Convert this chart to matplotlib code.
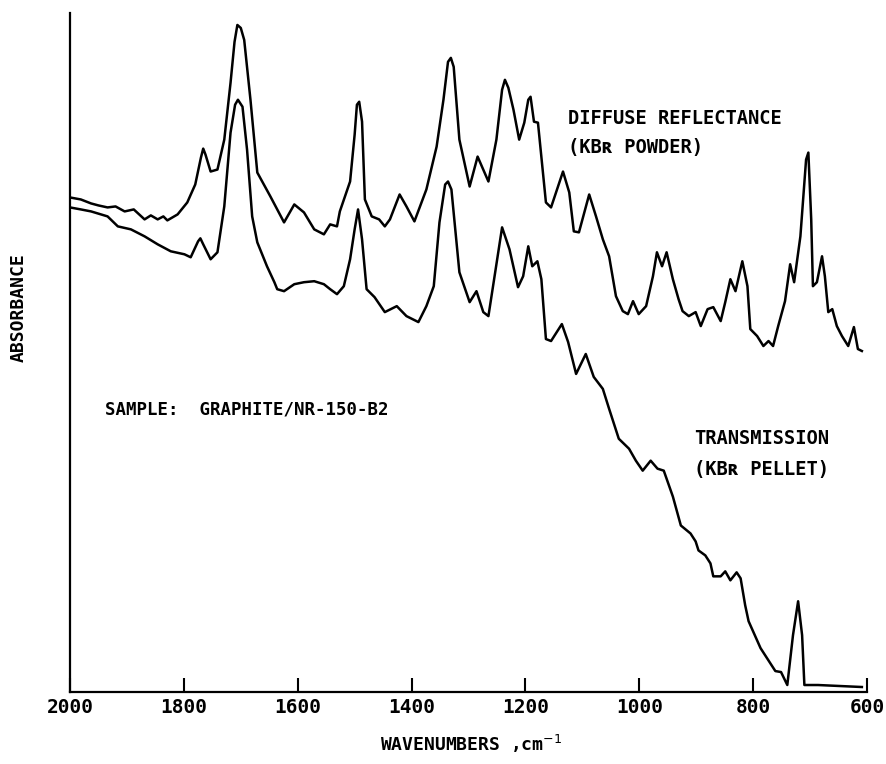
import matplotlib
matplotlib.use("Agg")
import matplotlib.pyplot as plt

# Diffuse reflectance (KBr powder) spectrum: wavenumber (cm-1), absorbance (arb.)
diffuse_wn = [2000, 1981, 1963, 1950, 1934, 1920, 1904, 1888, 1869, 1858, 1846, 1836, 1829,
              1811, 1794, 1780, 1770, 1766, 1762, 1753, 1741, 1729, 1718, 1711, 1706, 1700, 1694,
              1683, 1671, 1648, 1636, 1624, 1606, 1589, 1571, 1554, 1543, 1531, 1526, 1508, 1500,
              1496, 1492, 1487, 1482, 1470, 1457, 1447, 1438, 1421, 1409, 1395, 1374, 1356,
              1344, 1336, 1331, 1326, 1316, 1298, 1284, 1265, 1251, 1241, 1236, 1230, 1221, 1211, 1202,
              1195, 1191, 1185, 1178, 1164, 1155, 1134, 1123, 1115, 1106, 1088, 1076, 1064,
              1053, 1041, 1029, 1020, 1011, 1001, 988, 976, 969, 960, 952, 941, 931,
              924, 913, 901, 892, 880, 870, 857, 849, 840, 831, 819, 810, 805, 793,
              782, 773, 765, 756, 744, 735, 728, 717, 707, 703, 698, 695, 688, 679, 674,
              668, 661, 653, 644, 633, 623, 616, 609]
diffuse_abs = [0.492, 0.490, 0.486, 0.484, 0.482, 0.483, 0.478, 0.480, 0.470, 0.474, 0.470, 0.473, 0.469,
               0.475, 0.487, 0.505, 0.532, 0.541, 0.535, 0.518, 0.520, 0.550, 0.607, 0.648, 0.665, 0.662, 0.650,
               0.590, 0.517, 0.493, 0.480, 0.467, 0.485, 0.477, 0.460, 0.455, 0.465, 0.463, 0.478, 0.508, 0.555,
               0.585, 0.588, 0.568, 0.490, 0.473, 0.470, 0.463, 0.470, 0.495, 0.483, 0.468, 0.500, 0.543,
               0.590, 0.628, 0.632, 0.623, 0.550, 0.503, 0.533, 0.508, 0.550, 0.600, 0.610, 0.602, 0.580, 0.550, 0.567,
               0.590, 0.593, 0.568, 0.567, 0.487, 0.482, 0.518, 0.497, 0.458, 0.457, 0.495, 0.473, 0.450,
               0.433, 0.393, 0.378, 0.375, 0.388, 0.375, 0.383, 0.413, 0.437, 0.423, 0.437, 0.410, 0.390,
               0.378, 0.373, 0.377, 0.363, 0.380, 0.382, 0.368, 0.387, 0.410, 0.398, 0.428, 0.403, 0.360, 0.353,
               0.343, 0.348, 0.343, 0.363, 0.388, 0.425, 0.407, 0.453, 0.530, 0.537, 0.470, 0.403, 0.407, 0.433, 0.413,
               0.377, 0.380, 0.363, 0.353, 0.343, 0.362, 0.340, 0.338]

# Transmission (KBr pellet) spectrum
trans_wn = [2000, 1981, 1963, 1934, 1916, 1893, 1869, 1846, 1823, 1799, 1788, 1775, 1771, 1766, 1753,
            1741, 1729, 1718, 1710, 1705, 1697, 1689, 1680, 1671, 1654, 1641, 1636, 1624, 1606,
            1589, 1571, 1554, 1543, 1531, 1519, 1508, 1500, 1494, 1487, 1479, 1465, 1447,
            1426, 1409, 1388, 1374, 1361, 1351, 1341, 1336, 1330, 1316, 1298, 1286, 1274, 1265,
            1255, 1241, 1228, 1213, 1204, 1195, 1188, 1179, 1172, 1164, 1155, 1136, 1125,
            1111, 1094, 1080, 1064, 1053, 1036, 1018, 1006, 994, 980, 968, 957, 941, 927,
            910, 901, 896, 884, 875, 870, 857, 849, 840, 829, 822, 814, 808, 787, 761, 751,
            740, 730, 721, 714, 710, 686, 609]
trans_abs = [0.482, 0.480, 0.478, 0.473, 0.463, 0.460, 0.453, 0.445, 0.438, 0.435, 0.432, 0.448, 0.451, 0.445, 0.430,
             0.437, 0.483, 0.557, 0.585, 0.590, 0.583, 0.540, 0.473, 0.447, 0.423, 0.407, 0.400, 0.398, 0.405,
             0.407, 0.408, 0.405, 0.400, 0.395, 0.403, 0.430, 0.460, 0.480, 0.450, 0.400, 0.392, 0.377,
             0.383, 0.373, 0.367, 0.383, 0.403, 0.467, 0.505, 0.508, 0.500, 0.417, 0.387, 0.398, 0.377, 0.373,
             0.410, 0.462, 0.440, 0.402, 0.413, 0.443, 0.423, 0.428, 0.410, 0.350, 0.348, 0.365, 0.347,
             0.315, 0.335, 0.312, 0.300, 0.280, 0.250, 0.240, 0.228, 0.218, 0.228, 0.220, 0.218, 0.192, 0.163,
             0.155, 0.147, 0.138, 0.133, 0.125, 0.112, 0.112, 0.117, 0.108, 0.116, 0.110, 0.083, 0.067, 0.040, 0.017, 0.016,
             0.003, 0.053, 0.087, 0.053, 0.003, 0.003, 0.001]

xticks = [2000, 1800, 1600, 1400, 1200, 1000, 800, 600]

W, H = 886, 764
fig = plt.figure(figsize=(W / 100, H / 100), dpi=100)
ax = fig.add_axes([70 / W, 1 - 692 / H, (867 - 70) / W, (692 - 13) / H])

ax.plot(diffuse_wn, diffuse_abs, color="black", lw=1.8, solid_joinstyle="round")
ax.plot(trans_wn, trans_abs, color="black", lw=1.8, solid_joinstyle="round")

ax.set_xlim(2000, 600)
ax.set_ylim(-0.004, 0.677)
for s in ["top", "right"]:
    ax.spines[s].set_visible(False)
for s in ["left", "bottom"]:
    ax.spines[s].set_linewidth(1.6)
ax.set_yticks([])
ax.set_xticks(xticks)
mono = ["DejaVu Sans Mono", "DejaVu Sans"]
ax.set_xticklabels([str(t) for t in xticks],
                   fontdict=dict(family=mono, weight="bold", size=14))
ax.tick_params(axis="x", direction="in", length=10, width=1.5, pad=4)


def ftext(x, y, s, size=13.5, **kw):
    fig.text(x / W, 1 - y / H, s, family=mono, weight="bold", size=size,
             va="center", **kw)


ftext(568, 118, "DIFFUSE REFLECTANCE")
ftext(568, 147, "(KBʀ POWDER)")
ftext(694, 438, "TRANSMISSION")
ftext(694, 469, "(KBʀ PELLET)")
ftext(105, 410, "SAMPLE:  GRAPHITE/NR-150-B2", size=12.5)
ftext(19, 308, "ABSORBANCE", size=13, rotation=90, ha="center")
ftext(471, 744, "WAVENUMBERS ,cm$^{-1}$", size=13, ha="center")

fig.savefig("out.png", dpi=100, facecolor="white")
